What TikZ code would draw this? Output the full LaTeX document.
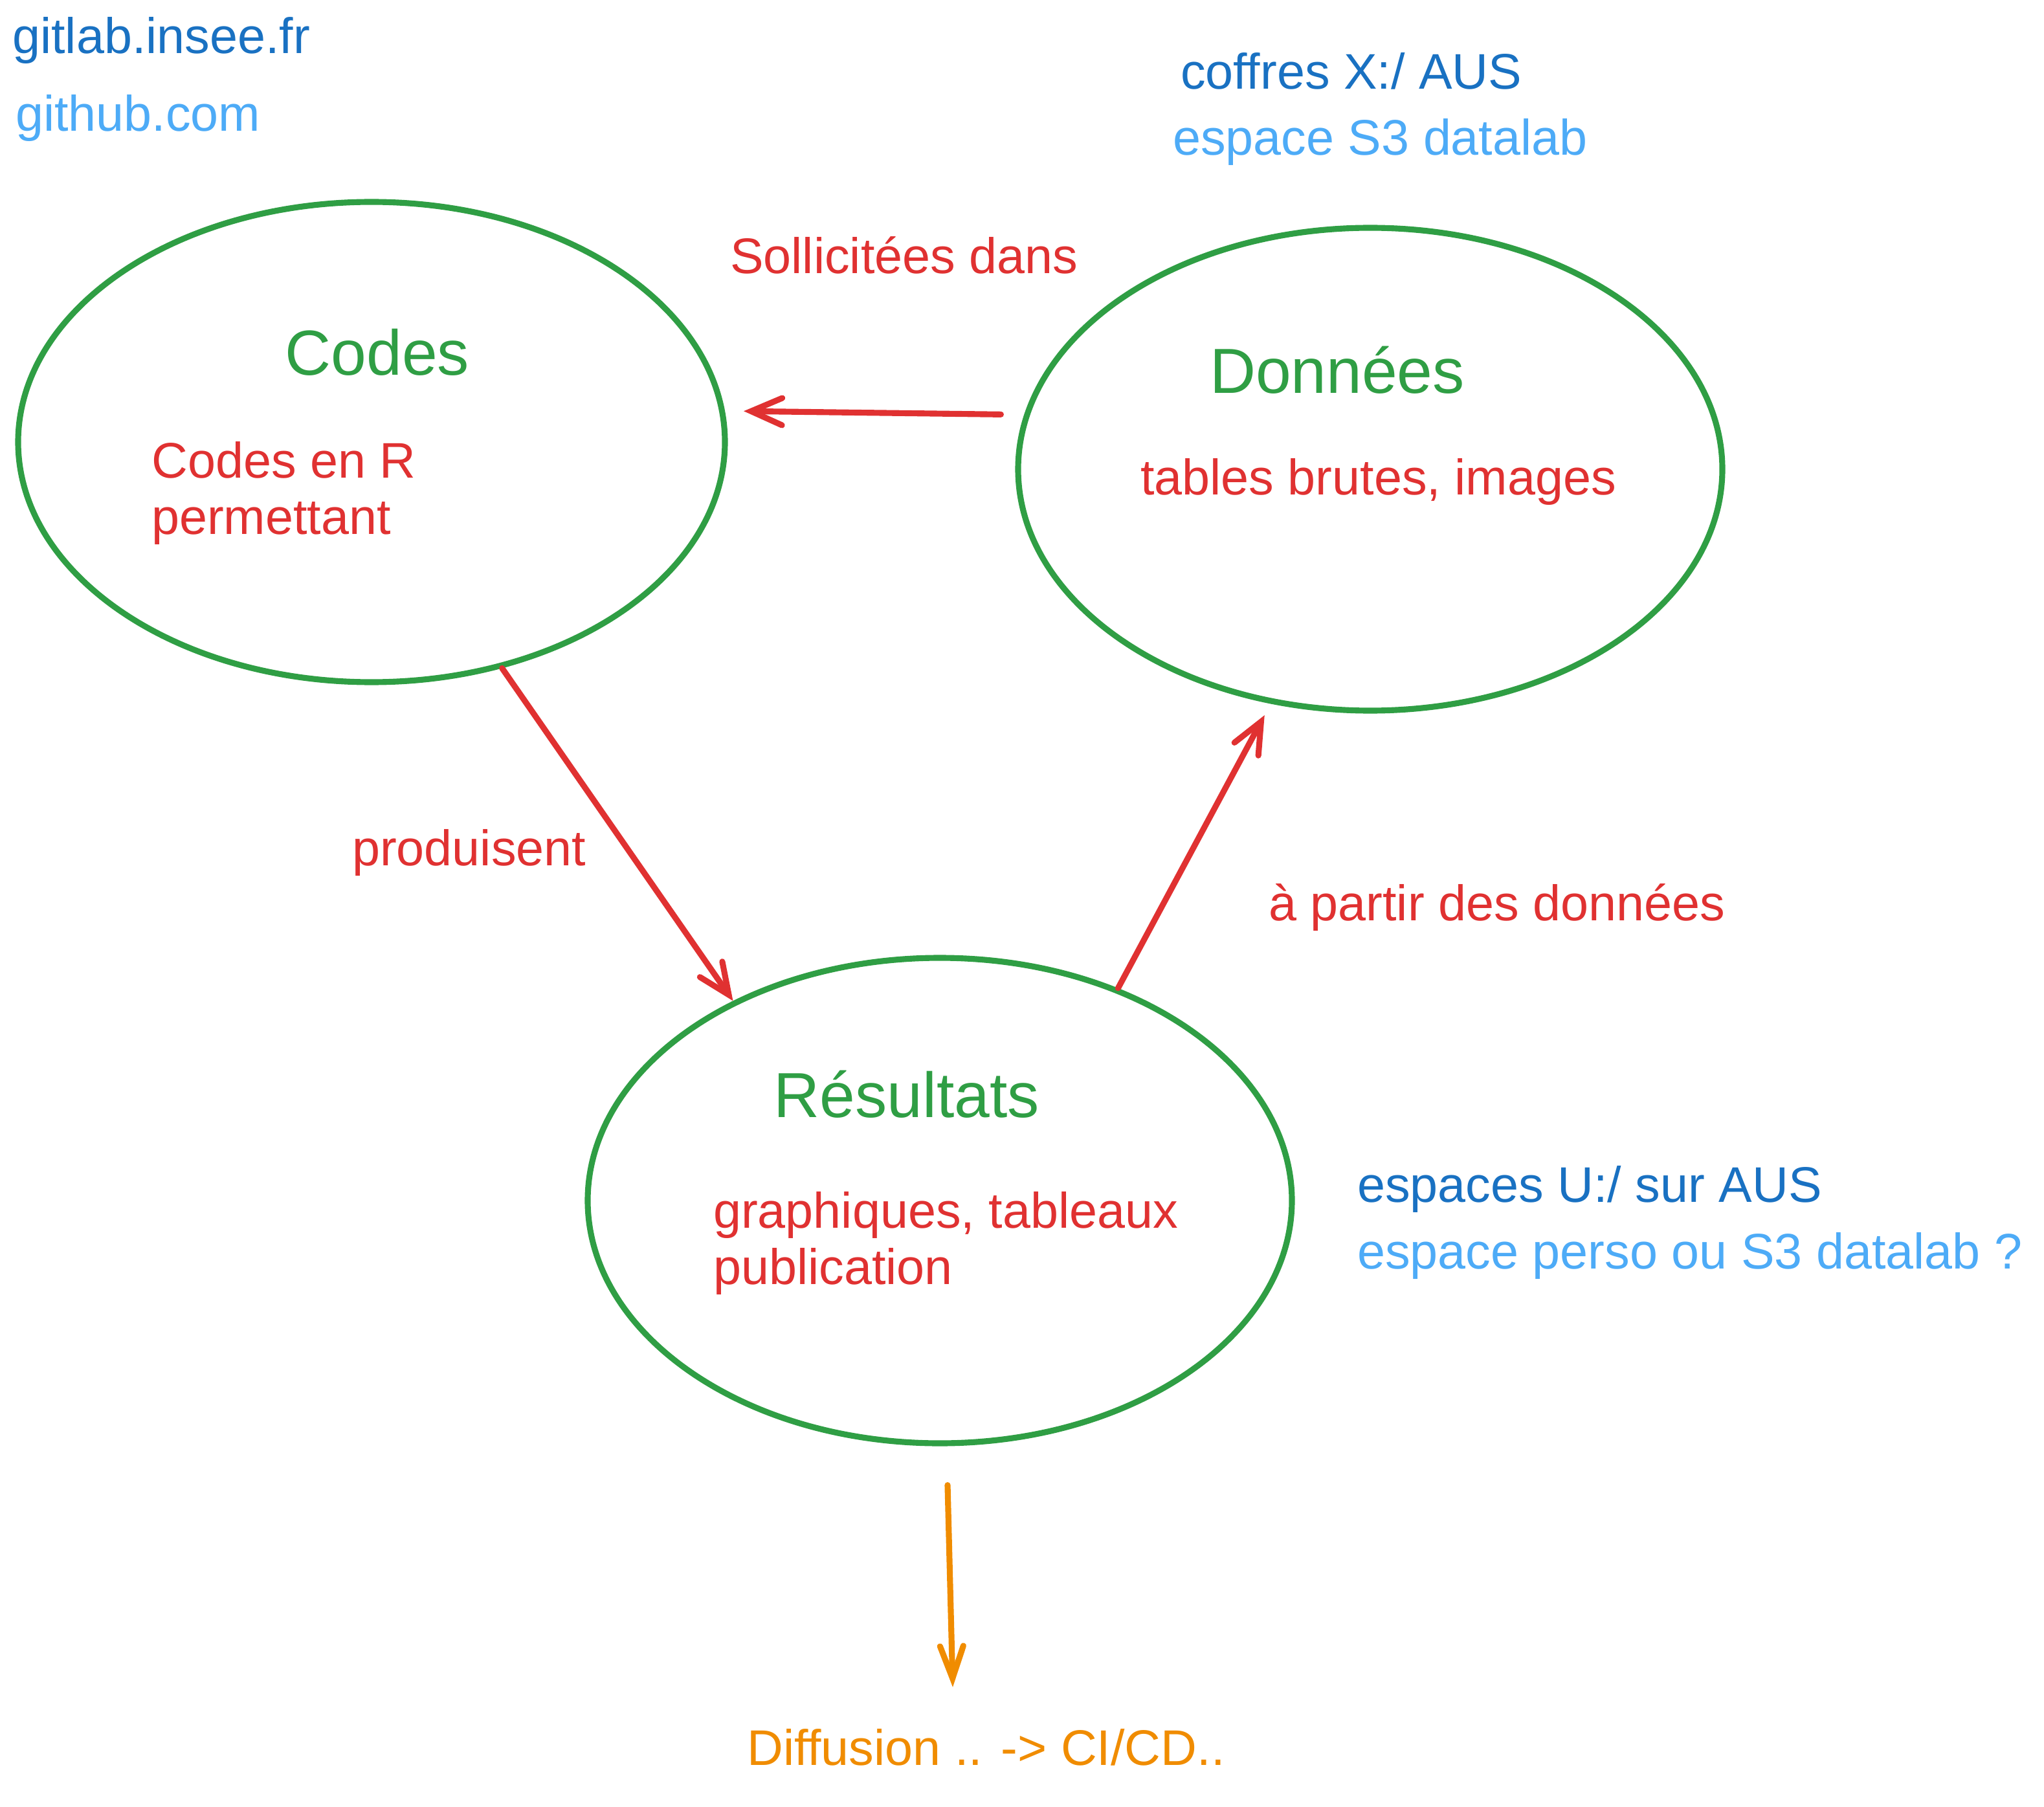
\documentclass[tikz,border=0pt]{standalone}
\usepackage{fontspec}
\setmainfont{Liberation Sans}
\usepackage{tikz}
\usetikzlibrary{shapes.geometric, arrows.meta, positioning, calc}

\definecolor{exgreen}{HTML}{2F9E44}
\definecolor{exred}{HTML}{E03131}
\definecolor{exblue}{HTML}{1971C2}
\definecolor{exlightblue}{HTML}{4DABF7}
\definecolor{exorange}{HTML}{F08C00}

\begin{document}
\begin{tikzpicture}[
    ell_node/.style={ellipse, draw=exgreen, line width=2.6pt, inner sep=0pt},
    title_txt/.style={text=exgreen, font=\fontsize{28}{33}\selectfont, anchor=base},
    body_txt/.style={text=exred, font=\fontsize{22}{26}\selectfont, anchor=base west, inner sep=1pt},
    store_txt/.style={font=\fontsize{22}{26}\selectfont, anchor=base west, inner sep=1pt},
    red_arrow/.style={draw=exred, line width=2.6pt, line cap=round, -{Straight Barb[length=4.8mm, width=4.2mm, line cap=round]}},
    orange_arrow/.style={draw=exorange, line width=2.6pt, line cap=round, -{Straight Barb[length=5mm, width=3.6mm, line cap=round]}},
    ]
    \useasboundingbox (0,0) rectangle (31.58,-27.92);

    % Ellipses
    \node[ell_node, minimum width=10.92cm, minimum height=7.42cm] (codes) at (5.74,-6.83) {};
    \node[ell_node, minimum width=10.88cm, minimum height=7.46cm] (don) at (21.17,-7.25) {};
    \node[ell_node, minimum width=10.88cm, minimum height=7.50cm] (res) at (14.52,-18.55) {};

    % Titles and contents
    \node[title_txt] (codes_t) at (5.83,-5.80) {Codes};
    \node[body_txt] (codes_b1) at (2.30,-7.39) {Codes en R};
    \node[body_txt] (codes_b2) at ([yshift=-0.87cm]codes_b1.base west) {permettant};

    \node[title_txt] (don_t) at (20.66,-6.08) {Données};
    \node[body_txt] (don_b) at (17.58,-7.65) {tables brutes, images};

    \node[title_txt] (res_t) at (14.01,-17.26) {Résultats};
    \node[body_txt] (res_b1) at (10.98,-18.97) {graphiques, tableaux};
    \node[body_txt] (res_b2) at ([yshift=-0.87cm]res_b1.base west) {publication};

    % Storage places
    \node[store_txt, text=exblue] (gitlab) at (0.15,-0.83) {gitlab.insee.fr};
    \node[store_txt, text=exlightblue] (github) at (0.20,-2.03) {github.com};
    \node[store_txt, text=exblue] (coffres) at (18.20,-1.38) {coffres X:/ AUS};
    \node[store_txt, text=exlightblue] (s3) at (18.08,-2.40) {espace S3 datalab};
    \node[store_txt, text=exblue] (espU) at (20.93,-18.57) {espaces U:/ sur AUS};
    \node[store_txt, text=exlightblue] (perso) at (20.93,-19.60) {espace perso ou S3 datalab ?};

    % Arrow labels
    \node[body_txt] (lbl_sol) at (11.24,-4.23) {Sollicitées dans};
    \node[body_txt] (lbl_prod) at (5.40,-13.37) {produisent};
    \node[body_txt] (lbl_part) at (19.56,-14.22) {à partir des données};
    \node[store_txt, text=exorange] (diff) at (11.50,-27.27) {Diffusion .. -> CI/CD..};

    % Arrows
    \draw[red_arrow] ([xshift=-3.6mm]don.171) -- ([xshift=2.9mm]codes.5);
    \draw[red_arrow] (codes.-60) -- (res.136);
    \draw[red_arrow, shorten >=2mm] (res.50) -- (don.247);
    \draw[orange_arrow] ([shift={(0.12,-0.6)}]res.south) -- ([shift={(0.2,0.6)}]diff.north -| res.south);
\end{tikzpicture}
\end{document}
